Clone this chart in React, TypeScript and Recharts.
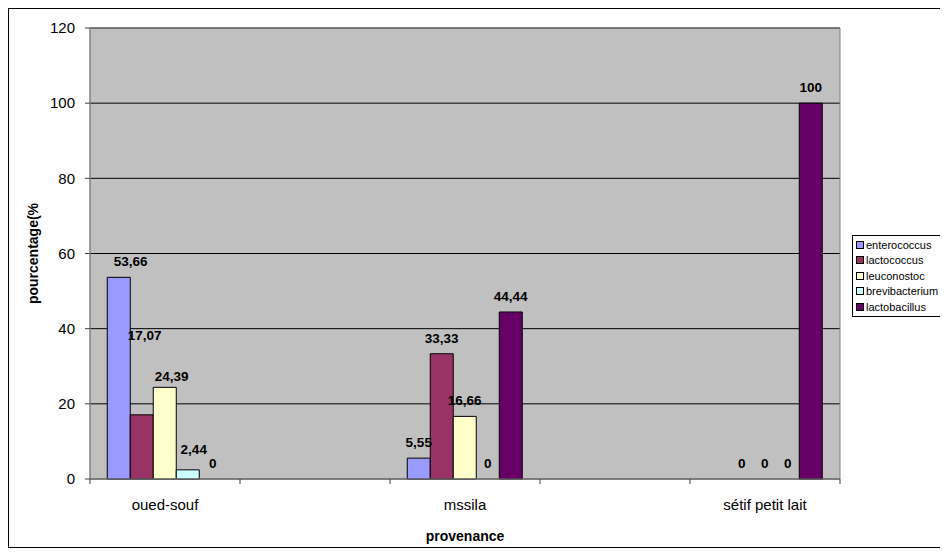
import React from 'react'
import { BarChart, Bar, XAxis, YAxis, CartesianGrid, Legend, LabelList, ReferenceArea, Rectangle } from 'recharts'

// provenance slots (empty slots keep the Excel-style spacing between sites)
const provenances = ['oued-souf', '', 'mssila', '', 'sétif petit lait']

const enterococcus = [53.66, null, 5.55, null, null]
const lactococcus = [17.07, null, 33.33, null, 0]
const leuconostoc = [24.39, null, 16.66, null, 0]
const brevibacterium = [2.44, null, 0, null, 0]
const lactobacillus = [0, null, 44.44, null, 100]

const yTicks = [0, 20, 40, 60, 80, 100, 120]

const series = [
  { key: 'enterococcus', values: enterococcus, color: '#9999FF' },
  { key: 'lactococcus', values: lactococcus, color: '#993366' },
  { key: 'leuconostoc', values: leuconostoc, color: '#FFFFCC' },
  { key: 'brevibacterium', values: brevibacterium, color: '#CCFFFF' },
  { key: 'lactobacillus', values: lactobacillus, color: '#660066' },
]

const chartData = provenances.map((p, i) => {
  const row: any = { provenance: p }
  series.forEach(s => { row[s.key] = s.values[i] })
  return row
})

// some labels were dragged off their bars in the original sheet
const labelShift: Record<string, { dx: number; dy: number }> = {
  'enterococcus-0': { dx: 12, dy: 0 },
  'lactococcus-0': { dx: 3, dy: 64 },
  'leuconostoc-0': { dx: 7, dy: -5 },
  'brevibacterium-0': { dx: 6, dy: 5 },
  'lactobacillus-0': { dx: 2, dy: 0 },
  'enterococcus-2': { dx: -12, dy: 0 },
}

const W = 939
const H = 538
const margin = { top: 19, right: 108, left: 0, bottom: 0 }
const Y_AXIS_W = 81
const X_AXIS_H = 68
const SLOT = (W - margin.right - Y_AXIS_W) / provenances.length

const font = 'Liberation Sans, Arial, sans-serif'

const fmt = (v: number) => String(v).replace('.', ',')

const valueLabel = (key: string) => (props: any) => {
  const { value, index } = props
  if (value === null || value === undefined) return null
  const vb = props.viewBox || {}
  const x = vb.x ?? props.x
  const y = vb.y ?? props.y
  const width = vb.width ?? props.width
  const shift = labelShift[`${key}-${index}`] || { dx: 0, dy: 0 }
  return (
    <text x={x + width / 2 + shift.dx} y={y - 11 - shift.dy} textAnchor="middle" fontSize={13.5} fontWeight="bold" fill="#000" fontFamily={font}>
      {fmt(value)}
    </text>
  )
}

// zero-valued bars keep a rectangle for their label but draw nothing
const BarShape = (props: any) => {
  if (!(Math.abs(props.height) > 0.5)) return null
  return <Rectangle {...props} />
}

const CategoryTick = (props: any) => {
  const { x, y, payload, index } = props
  return (
    <g>
      <line x1={x - SLOT / 2} y1={y} x2={x - SLOT / 2} y2={y + 5} stroke="#404040" />
      {index === provenances.length - 1 && (
        <line x1={x + SLOT / 2} y1={y} x2={x + SLOT / 2} y2={y + 5} stroke="#404040" />
      )}
      <text x={x} y={y + 31} textAnchor="middle" fontSize={15} fill="#000" fontFamily={font}>
        {payload.value}
      </text>
    </g>
  )
}

const YTitle = (props: any) => {
  const { viewBox } = props
  const cx = 24
  const cy = viewBox.y + viewBox.height / 2
  return (
    <text x={cx} y={cy} transform={`rotate(-90, ${cx}, ${cy})`} textAnchor="middle" dominantBaseline="central"
      fontSize={14} fontWeight="bold" fill="#000" fontFamily={font}>
      pourcentage(%
    </text>
  )
}

const LegendBox = () => (
  <div style={{ border: '1px solid #000', background: '#fff', padding: '1px 2px 1px 3px', width: 82, fontFamily: font }}>
    {series.map(s => (
      <div key={s.key} style={{ display: 'flex', alignItems: 'center', height: 15.5, fontSize: 11, color: '#000', whiteSpace: 'nowrap' }}>
        <span style={{ width: 6, height: 6, border: '1px solid #000', background: s.color, marginRight: 2, display: 'inline-block', flexShrink: 0 }} />
        {s.key}
      </div>
    ))}
  </div>
)

export default function App() {
  return (
    <div style={{ position: 'relative', width: 940, height: 540, boxSizing: 'border-box', borderTop: '1px solid #000', borderLeft: '1px solid #000', borderBottom: '1px solid #000', background: '#fff' }}>
      <BarChart width={W} height={H} data={chartData} margin={margin} barCategoryGap="11.5%" barGap={0} style={{ fontFamily: font }}>
        <CartesianGrid vertical={false} stroke="#000" fill="#C0C0C0" fillOpacity={1} />
        <XAxis dataKey="provenance" height={X_AXIS_H} interval={0} tickLine={false} tickSize={0} tickMargin={0}
          axisLine={{ stroke: '#808080' }} tick={<CategoryTick />}
          label={{ value: 'provenance', position: 'insideBottom', offset: 6, fontSize: 14, fontWeight: 'bold', fill: '#000' }} />
        <YAxis width={Y_AXIS_W} domain={[0, 120]} ticks={yTicks} interval={0} tickSize={5} tickMargin={10}
          axisLine={{ stroke: '#808080' }} tickLine={{ stroke: '#404040' }}
          tick={{ fontSize: 15, fill: '#000', fontFamily: font }} label={<YTitle />} />
        <ReferenceArea y1={0} y2={120} fill="none" stroke="#808080" ifOverflow="visible" />
        <Legend layout="vertical" align="center" verticalAlign="middle" content={<LegendBox />}
          wrapperStyle={{ left: 843, top: 226, width: 'auto', height: 'auto' }} />
        {series.map(s => (
          <Bar key={s.key} dataKey={s.key} name={s.key} fill={s.color} stroke="#000" strokeWidth={1}
            minPointSize={0.01} shape={<BarShape />} isAnimationActive={false}>
            <LabelList dataKey={s.key} content={valueLabel(s.key)} />
          </Bar>
        ))}
      </BarChart>
    </div>
  )
}
